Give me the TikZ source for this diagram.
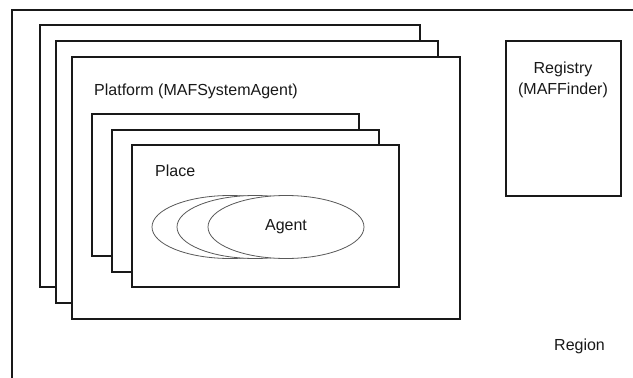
\documentclass[tikz,border=0pt]{standalone}
\usepackage{fontspec}
\setmainfont{Liberation Sans}
\usetikzlibrary{shapes.geometric}
\begin{document}
\begin{tikzpicture}[x=1pt,y=-1pt,
  frame/.style={draw=black!90,line width=1.6pt,fill=white,rectangle,inner sep=0pt,anchor=north west},
  platbox/.style={frame,minimum height=262pt},
  placebox/.style={frame,minimum width=267pt,minimum height=142pt},
  agentell/.style={draw=black!65,line width=0.8pt,fill=white,ellipse,minimum width=156pt,minimum height=63pt,inner sep=0pt},
  lbl/.style={font=\fontsize{16}{19}\selectfont,inner sep=0pt,text=black!90}]
\useasboundingbox[fill=white] (0,0) rectangle (633,378);
\clip (0,0) rectangle (633,378);
% region
\node[frame,minimum width=700pt,minimum height=450pt] (region) at (11,9) {};
% platforms
\node[platbox,minimum width=380pt] (plat1) at (39,24) {};
\node[platbox,minimum width=382pt] (plat2) at (55,40) {};
\node[platbox,minimum width=388pt] (plat3) at (71,56) {};
% places
\node[placebox] (place1) at (91,113) {};
\node[placebox] (place2) at (111,129) {};
\node[placebox] (place3) at (131,144) {};
% agents
\node[agentell] (agent1) at (230,227) {};
\node[agentell] (agent2) at (255,227) {};
\node[agentell] (agent3) at (286,227) {};
% registry
\node[frame,minimum width=115pt,minimum height=155pt] (registry) at (505,40) {};
% labels
\node[lbl,anchor=base west] (platlbl) at (94,95) {Platform (MAFSystemAgent)};
\node[lbl,anchor=base west] (placelbl) at (155,176) {Place};
\node[lbl] (agentlbl) at (agent3) {Agent};
\node[lbl,anchor=base] (reglbl1) at (563,73) {Registry};
\node[lbl,anchor=base] (reglbl2) at (563,94) {(MAFFinder)};
\node[lbl,anchor=base west] (regionlbl) at (554,350) {Region};
\end{tikzpicture}
\end{document}
